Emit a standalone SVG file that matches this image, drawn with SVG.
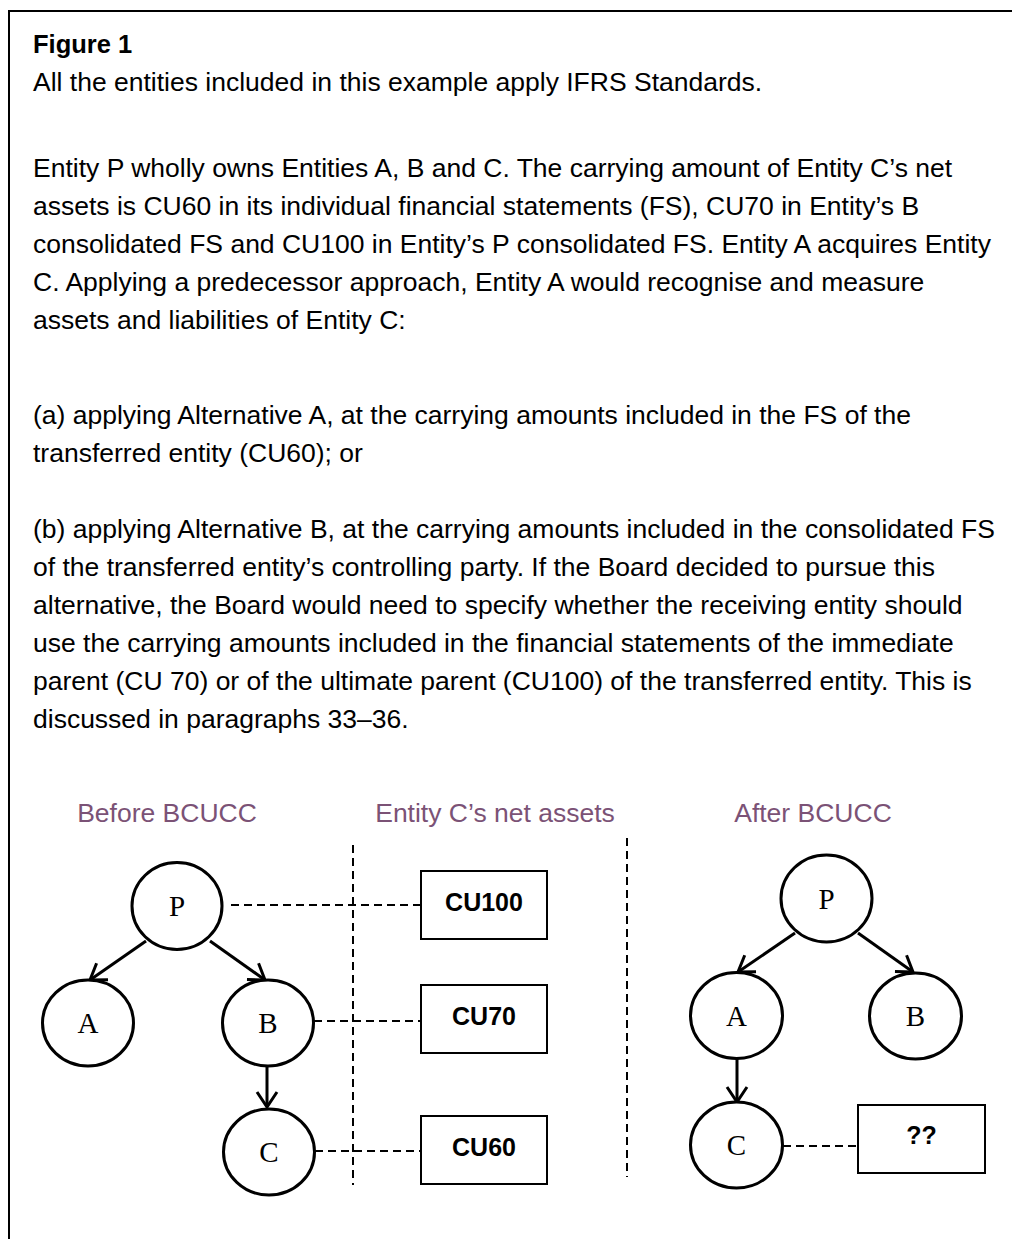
<svg xmlns="http://www.w3.org/2000/svg" width="1012" height="1239" viewBox="0 0 1012 1239">
<defs>
<style>
.body{font-family:"Liberation Sans",Arial,sans-serif;font-size:26.5px;fill:#000}
.title{font-family:"Liberation Sans",Arial,sans-serif;font-size:25.5px;font-weight:bold;fill:#000}
.head{font-family:"Liberation Sans",Arial,sans-serif;font-size:26.5px;fill:#7b5276;text-anchor:middle}
.node{fill:#fff;stroke:#000;stroke-width:3}
.ntext{font-family:"Liberation Serif","Times New Roman",serif;font-size:29px;text-anchor:middle;fill:#000}
.box{fill:#fff;stroke:#000;stroke-width:2}
.btext{font-family:"Liberation Sans",Arial,sans-serif;font-size:25px;font-weight:bold;text-anchor:middle;fill:#000}
.arrow{stroke:#000;stroke-width:3;fill:none;marker-end:url(#head)}
.dash{stroke:#000;stroke-width:2;stroke-dasharray:8 5;fill:none}
.frame{stroke:#000;stroke-width:2;fill:none}
</style>
<marker id="head" markerUnits="userSpaceOnUse" markerWidth="40" markerHeight="40" viewBox="-20 -20 40 40" refX="0" refY="0" orient="auto">
<path d="M-15,-10 L0,0 L-15,10" fill="none" stroke="#000" stroke-width="3"/>
</marker>
</defs>
<rect width="1012" height="1239" fill="#fff"/>
<path class="frame" d="M9,1239 V11 H1012"/>
<g id="text">
<text class="title" x="33" y="53">Figure 1</text>
<text class="body" x="33" y="91">All the entities included in this example apply IFRS Standards.</text>
<text class="body" x="33" y="177">Entity P wholly owns Entities A, B and C. The carrying amount of Entity C’s net</text>
<text class="body" x="33" y="215">assets is CU60 in its individual financial statements (FS), CU70 in Entity’s B</text>
<text class="body" x="33" y="253">consolidated FS and CU100 in Entity’s P consolidated FS. Entity A acquires Entity</text>
<text class="body" x="33" y="291">C. Applying a predecessor approach, Entity A would recognise and measure</text>
<text class="body" x="33" y="329">assets and liabilities of Entity C:</text>
<text class="body" x="33" y="424">(a) applying Alternative A, at the carrying amounts included in the FS of the</text>
<text class="body" x="33" y="462">transferred entity (CU60); or</text>
<text class="body" x="33" y="538">(b) applying Alternative B, at the carrying amounts included in the consolidated FS</text>
<text class="body" x="33" y="576">of the transferred entity’s controlling party. If the Board decided to pursue this</text>
<text class="body" x="33" y="614">alternative, the Board would need to specify whether the receiving entity should</text>
<text class="body" x="33" y="652">use the carrying amounts included in the financial statements of the immediate</text>
<text class="body" x="33" y="690">parent (CU 70) or of the ultimate parent (CU100) of the transferred entity. This is</text>
<text class="body" x="33" y="728">discussed in paragraphs 33–36.</text>
<text class="head" x="167" y="822">Before BCUCC</text>
<text class="head" x="495" y="822">Entity C’s net assets</text>
<text class="head" x="813" y="822">After BCUCC</text>
</g>
<g id="connectors">
<line class="dash" x1="353" y1="845" x2="353" y2="1185"/>
<line class="dash" x1="627" y1="838" x2="627" y2="1177"/>
<line class="dash" x1="231" y1="905" x2="421" y2="905"/>
<line class="dash" x1="314" y1="1021" x2="421" y2="1021"/>
<line class="dash" x1="315" y1="1151" x2="421" y2="1151"/>
<line class="dash" x1="783" y1="1146" x2="858" y2="1146"/>
<line class="arrow" x1="146" y1="941" x2="90" y2="980"/>
<line class="arrow" x1="210" y1="941" x2="265" y2="980"/>
<line class="arrow" x1="267" y1="1066" x2="267" y2="1107"/>
<line class="arrow" x1="795" y1="933" x2="738" y2="972"/>
<line class="arrow" x1="858" y1="933" x2="913" y2="972"/>
<line class="arrow" x1="737" y1="1058" x2="737" y2="1102"/>
</g>
<g id="node-P1"><ellipse class="node" cx="177" cy="906" rx="45" ry="43.5"/><text class="ntext" x="177" y="916">P</text></g>
<g id="node-A1"><ellipse class="node" cx="88" cy="1023" rx="45.5" ry="43"/><text class="ntext" x="88" y="1033">A</text></g>
<g id="node-B1"><ellipse class="node" cx="268" cy="1023" rx="45.5" ry="43"/><text class="ntext" x="268" y="1033">B</text></g>
<g id="node-C1"><ellipse class="node" cx="269" cy="1152" rx="45.5" ry="43"/><text class="ntext" x="269" y="1162">C</text></g>
<g id="box-CU100"><rect class="box" x="421" y="871" width="126" height="68"/><text class="btext" x="484" y="911">CU100</text></g>
<g id="box-CU70"><rect class="box" x="421" y="985" width="126" height="68"/><text class="btext" x="484" y="1025">CU70</text></g>
<g id="box-CU60"><rect class="box" x="421" y="1116" width="126" height="68"/><text class="btext" x="484" y="1156">CU60</text></g>
<g id="node-P2"><ellipse class="node" cx="826.5" cy="898.5" rx="45.5" ry="43.5"/><text class="ntext" x="826.5" y="908.5">P</text></g>
<g id="node-A2"><ellipse class="node" cx="736.5" cy="1015.5" rx="46" ry="43"/><text class="ntext" x="736.5" y="1025.5">A</text></g>
<g id="node-B2"><ellipse class="node" cx="915.5" cy="1016" rx="46" ry="43"/><text class="ntext" x="915.5" y="1026">B</text></g>
<g id="node-C2"><ellipse class="node" cx="736.5" cy="1145" rx="46" ry="43"/><text class="ntext" x="736.5" y="1155">C</text></g>
<g id="box-q"><rect class="box" x="858" y="1105" width="127" height="68"/><text class="btext" x="921.5" y="1144">??</text></g>
</svg>
